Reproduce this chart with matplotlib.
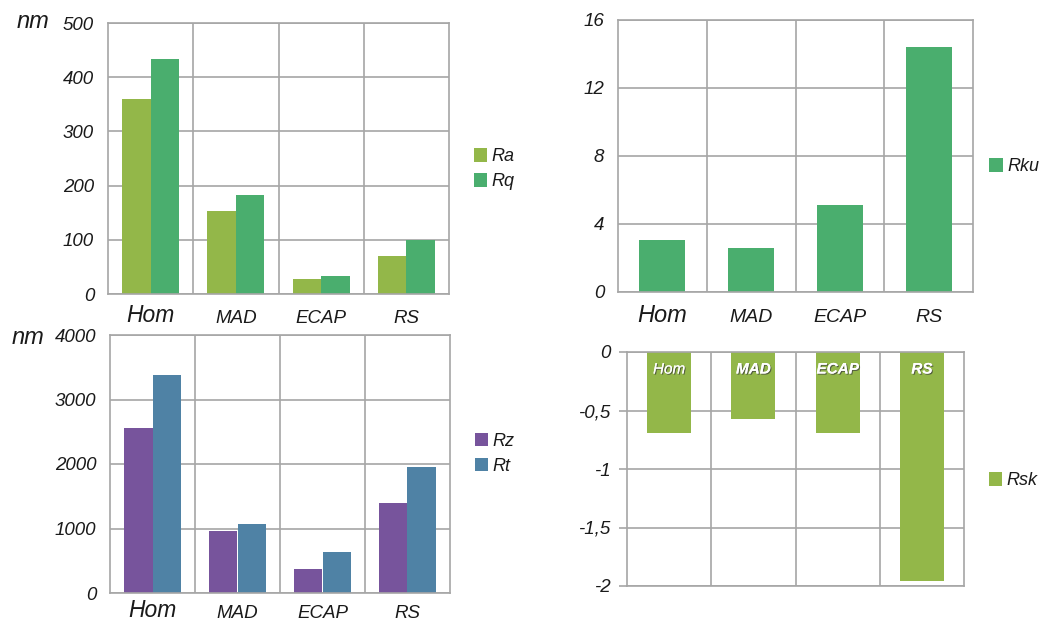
import numpy as np
import matplotlib.pyplot as plt
import matplotlib.patheffects as pe

plt.rcParams['font.family'] = ['Liberation Sans', 'DejaVu Sans']
plt.rcParams['font.style'] = 'italic'

categories = ['Hom', 'MAD', 'ECAP', 'RS']

ra = [359, 153, 28, 71]
rq = [434, 183, 33, 100]
rku = [3.04, 2.59, 5.12, 14.43]
rz = [2552, 962, 368, 1403]
rt = [3374, 1077, 636, 1956]
rsk = [-0.69, -0.574, -0.69, -1.96]

ra_ticks = [0, 100, 200, 300, 400, 500]
rku_ticks = [0, 4, 8, 12, 16]
rz_ticks = [0, 1000, 2000, 3000, 4000]
rsk_ticks = [0, -0.5, -1, -1.5, -2]
rsk_ticklabels = ['0', '-0,5', '-1', '-1,5', '-2']

C_RA = '#93b749'
C_RQ = '#4aae6e'
C_RZ = '#77549c'
C_RT = '#4f82a5'
GRID = '#a6a6a6'
TXT = '#1a1a1a'

W, H = 1043, 622
fig = plt.figure(figsize=(W / 100, H / 100), dpi=100)


def px_axes(left, top, right, bottom):
    return fig.add_axes([left / W, (H - bottom) / H, (right - left) / W, (bottom - top) / H])


def style(ax, ylim, yticks, yticklabels=None, ticklen=0):
    x = np.arange(len(categories))
    ax.set_xlim(-0.5, len(categories) - 0.5)
    ax.set_ylim(*ylim)
    ax.set_yticks(yticks)
    if yticklabels is not None:
        ax.set_yticklabels(yticklabels)
    ax.set_xticks(x[:-1] + 0.5, minor=True)
    ax.set_xticks([])
    ax.grid(True, axis='y', color=GRID, lw=1.2)
    ax.grid(True, axis='x', which='minor', color=GRID, lw=1.2)
    ax.set_axisbelow(True)
    for s in ax.spines.values():
        s.set_color(GRID)
        s.set_linewidth(1.2)
    ax.tick_params(axis='y', length=ticklen, color=GRID, width=1.2,
                   pad=10 if ticklen == 0 else 6, labelsize=13.5, labelcolor=TXT)
    ax.tick_params(axis='x', which='both', length=0)
    return x


def cat_labels(ax, x, drops, sizes):
    # category names sit on a common baseline below the axis (offsets in px)
    for i, name in enumerate(categories):
        ax.annotate(name, xy=(x[i], 0), xycoords=ax.get_xaxis_transform(),
                    xytext=(0, -drops[i] * 0.72), textcoords='offset points',
                    ha='center', va='baseline', fontsize=sizes[i], color=TXT,
                    annotation_clip=False)


def side_legend(ax, x_frac, y_frac, spacing=0.45):
    ax.legend(loc='center left', bbox_to_anchor=(x_frac, y_frac), frameon=False,
              handlelength=0.75, handleheight=0.75, handletextpad=0.25,
              labelspacing=spacing, fontsize=13, labelcolor=TXT)


bw = 0.335

# Ra / Rq
ax1 = px_axes(108, 23, 449, 294)
x = style(ax1, (0, 500), ra_ticks)
ax1.bar(x - bw / 2, ra, bw, color=C_RA, label='Ra')
ax1.bar(x + bw / 2, rq, bw, color=C_RQ, label='Rq')
cat_labels(ax1, x, [28, 29, 29, 29], [16.5, 13.5, 13.5, 13.5])
side_legend(ax1, 1.025, 0.46)
fig.text(17 / W, 1 - 22 / H, 'nm', fontsize=17, color=TXT, va='center', ha='left')

# Rku
ax2 = px_axes(618, 20, 973, 292)
x = style(ax2, (0, 16), rku_ticks)
ax2.bar(x, rku, 0.52, color=C_RQ, label='Rku')
cat_labels(ax2, x, [30, 30, 30, 30], [17, 14, 14, 14])
side_legend(ax2, 1.0, 0.46)

# Rz / Rt
ax3 = px_axes(110, 335, 450, 593)
x = style(ax3, (0, 4000), rz_ticks)
ax3.bar(x - bw / 2, rz, bw, color=C_RZ, label='Rz')
ax3.bar(x + bw / 2, rt, bw, color=C_RT, label='Rt')
cat_labels(ax3, x, [24, 25.5, 25.5, 25.5], [16.5, 13.5, 13.5, 13.5])
side_legend(ax3, 1.025, 0.54)
fig.text(12 / W, 1 - 338 / H, 'nm', fontsize=17, color=TXT, va='center', ha='left')

# Rsk
ax4 = px_axes(627, 352, 964, 586)
x = style(ax4, (-2, 0), rsk_ticks, rsk_ticklabels, ticklen=6)
ax4.bar(x, rsk, 0.52, color=C_RA, label='Rsk')
shadow = [pe.withSimplePatchShadow(offset=(0.8, -0.8), shadow_rgbFace='#3a3a3a', alpha=0.7),
          pe.Normal()]
for i, name in enumerate(categories):
    ax4.text(x[i], -0.09, name, ha='center', va='top', color='white', fontsize=11,
             fontweight='normal' if i == 0 else 'bold', path_effects=shadow)
side_legend(ax4, 1.025, 0.45)

fig.savefig('out.png', dpi=100)
